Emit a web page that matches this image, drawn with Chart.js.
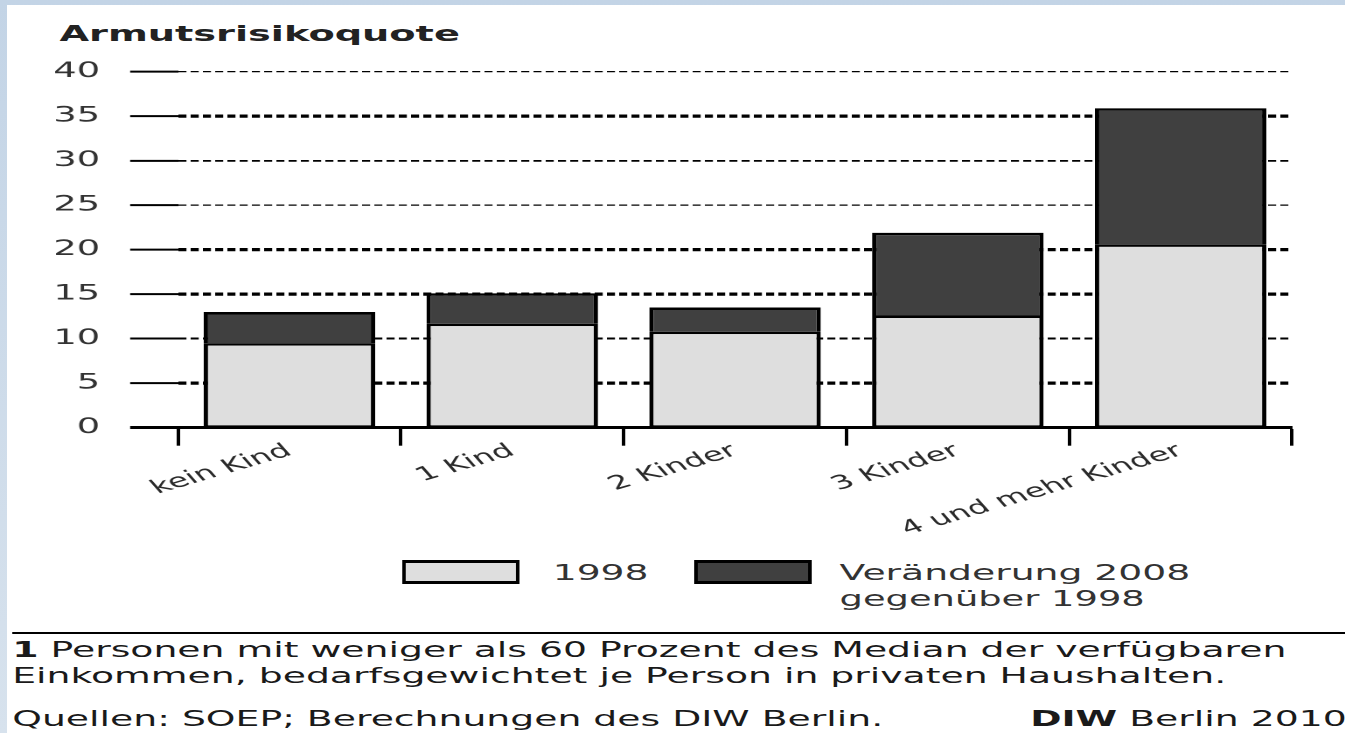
<!DOCTYPE html>
<html><head><meta charset="utf-8">
<script src="https://cdn.jsdelivr.net/npm/chart.js@4"></script>
<style>
html,body{margin:0;padding:0;width:1345px;height:733px;overflow:hidden;background:linear-gradient(180deg,#c3d4e6,#d7e2ed);font-family:"DejaVu Sans",sans-serif;}
#stage{position:absolute;left:0;top:0;width:769px;height:733px;transform-origin:0 0;}
#panel{position:absolute;left:4px;top:5px;width:800px;bottom:0;background:#fff;}
#c{position:absolute;left:0;top:0;}
.t{position:absolute;white-space:nowrap;transform-origin:0 0;line-height:1;}
.box{position:absolute;box-sizing:border-box;border:2.2px solid #000;border-top-width:3px;border-bottom-width:3px;}
</style></head>
<body>
<div id="stage">
  <div id="panel"></div>
  <div class="t" id="title" data-fw="400" style="left:34.3px;top:23.4px;font-size:22px;font-weight:bold;color:#222;">Armutsrisikoquote</div>
  <canvas id="c" width="769" height="540" style="width:769px;height:540px;"></canvas>
  <div class="box" style="left:230.4px;top:560px;width:66.9px;height:24px;background:#dedede;"></div>
  <div class="t" data-fw="95" style="left:316.2px;top:563.2px;font-size:21px;color:#333;">1998</div>
  <div class="box" style="left:396.8px;top:560px;width:66.9px;height:24px;background:#404040;"></div>
  <div class="t" data-fw="350" style="left:480.3px;top:563.2px;font-size:21px;color:#333;">Veränderung 2008</div>
  <div class="t" data-fw="305" style="left:480.3px;top:589.2px;font-size:21px;color:#333;">gegenüber 1998</div>
  <div style="position:absolute;left:7.4px;top:632px;width:770px;height:2px;background:#000;"></div>
  <div class="t foot" id="f1" data-fw="1274" style="left:7.4px;top:640.2px;font-size:21px;color:#1a1a1a;"><b>1</b> Personen mit weniger als 60 Prozent des Median der verfügbaren</div>
  <div class="t foot" style="left:7.4px;top:666.2px;font-size:21px;color:#1a1a1a;">Einkommen, bedarfsgewichtet je Person in privaten Haushalten.</div>
  <div class="t foot" style="left:7.4px;top:709.2px;font-size:21px;color:#1a1a1a;">Quellen: SOEP; Berechnungen des DIW Berlin.</div>
  <div class="t foot" style="left:588.9px;top:709.2px;font-size:21px;color:#1a1a1a;"><b>DIW</b> Berlin 2010</div>
</div>
<script>
const categories = ['kein Kind', '1 Kind', '2 Kinder', '3 Kinder', '4 und mehr Kinder'];
const values1998 = [9.5, 11.7, 10.8, 12.6, 20.6];
const change2008 = [3.5, 3.4, 2.7, 9.3, 15.3];
const seriesNames = ['1998', 'Veränderung 2008 gegenüber 1998'];
const yMin = 0, yMax = 40, yStep = 5;

const S = 1345 / 769;
document.getElementById('stage').style.transform = 'scaleX(' + S + ')';

// fit HTML texts to reference widths
const f1 = document.getElementById('f1');
const footScale = (1274 / S) / f1.offsetWidth;
document.querySelectorAll('.t').forEach(el => {
  if (el.classList.contains('foot')) { el.style.transform = 'scaleX(' + footScale + ')'; return; }
  const fw = parseFloat(el.dataset.fw);
  if (fw) el.style.transform = 'scaleX(' + ((fw / S) / el.offsetWidth) + ')';
});

const gridW = {0: 0, 5: 3.3, 10: 2, 15: 3.3, 20: 3.3, 25: 1.3, 30: 1.8, 35: 3.3, 40: 1.3};

new Chart(document.getElementById('c'), {
  type: 'bar',
  data: {
    labels: categories,
    datasets: [
      {label: seriesNames[0], data: values1998, backgroundColor: '#dedede', borderColor: '#000', borderWidth: 2.5, borderSkipped: false, barPercentage: 0.77, categoryPercentage: 1},
      {label: seriesNames[1], data: change2008, backgroundColor: '#404040', borderColor: '#000', borderWidth: 2.5, borderSkipped: 'bottom', barPercentage: 0.77, categoryPercentage: 1}
    ]
  },
  options: {
    responsive: false, animation: false, devicePixelRatio: 2,
    layout: {padding: {left: 0, right: 30.3, top: 71.7, bottom: 0}},
    plugins: {legend: {display: false}, tooltip: {enabled: false}, title: {display: false}},
    scales: {
      x: {
        stacked: true,
        grid: {display: true, drawOnChartArea: false, drawTicks: true, tickLength: 18, tickWidth: 2, tickColor: '#000', offset: true},
        border: {display: true, color: '#000', width: 3},
        ticks: {autoSkip: false, minRotation: 27, maxRotation: 27, padding: -6, color: '#2a2a2a', font: {family: 'DejaVu Sans', size: 19}},
        afterFit(sc) { sc.height = 540 - 427.7; }
      },
      y: {
        stacked: true, min: yMin, max: yMax,
        ticks: {stepSize: yStep, padding: 17.2, color: '#333', font: {family: 'DejaVu Sans', size: 21}},
        grid: {color: '#000', lineWidth: c => gridW[c.tick.value] ?? 1.5, tickLength: 27.4, tickWidth: c => c.tick.value === 0 ? 3 : 2, tickColor: '#000', drawTicks: true},
        border: {display: false, dash: [4.6, 2.4]},
        afterFit(sc) { sc.width = 101.8; }
      }
    }
  }
});
</script>
</body></html>
